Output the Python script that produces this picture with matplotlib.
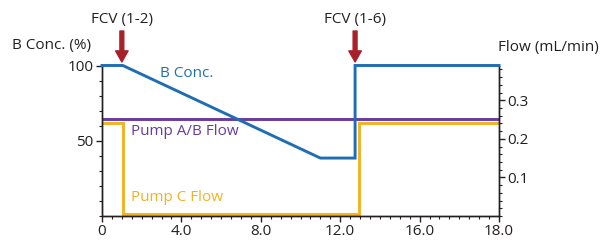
import numpy as np
import matplotlib.pyplot as plt
from matplotlib.ticker import MultipleLocator

plt.rcParams['font.family'] = ['Open Sans', 'DejaVu Sans']

# B concentration (%) vs time
bconc_x = [0, 1.05, 11.0, 12.75, 12.75, 20]
bconc_y = [100, 100, 38.5, 38.5, 100, 100]

# pump flows (mL/min)
pab_x = [0, 20]
pab_y = [0.252, 0.252]
pc_x = [0, 1.07, 1.07, 12.95, 12.95, 20]
pc_y = [0.241, 0.241, 0.004, 0.004, 0.241, 0.241]

xticks = [0, 4, 8, 12, 16, 20]
xlabels = ['0', '4.0', '8.0', '12.0', '16.0', '18.0']

events = [(1.0, 'FCV (1-2)'), (12.75, 'FCV (1-6)')]

blue = '#1f6db3'
purple = '#6a3a9c'
yellow = '#f0b323'
red = '#a8202a'
dark = '#231f20'
fs = 11

fig = plt.figure(figsize=(6.05, 2.4), dpi=100)
ax = fig.add_axes([102/605, 1-216/240, 397/605, 150.5/240])
ax2 = ax.twinx()

ax.plot(bconc_x, bconc_y, color=blue, lw=2.1, solid_joinstyle='miter',
        zorder=3, clip_on=False)
ax2.plot(pab_x, pab_y, color=purple, lw=2.1, zorder=2)
ax2.plot(pc_x, pc_y, color=yellow, lw=2.1, solid_joinstyle='miter', zorder=2)

ax.set_xlim(0, 20)
ax.set_ylim(0, 100)
ax2.set_ylim(0, 0.39)
ax.set_zorder(ax2.get_zorder() + 1)
ax.patch.set_visible(False)

ax.set_xticks(xticks)
ax.set_xticklabels(xlabels)
ax.xaxis.set_minor_locator(MultipleLocator(0.5))
ax.set_yticks([50, 100])
ax.yaxis.set_minor_locator(MultipleLocator(10))
ax2.set_yticks([0.1, 0.2, 0.3])
ax2.set_yticklabels(['0.1', '0.2', '0.3'])
ax2.yaxis.set_minor_locator(MultipleLocator(0.02))

for a in (ax, ax2):
    a.spines['top'].set_visible(False)
    for s in a.spines.values():
        s.set_color(dark)
        s.set_linewidth(1.0)
    a.tick_params(which='major', length=4, width=1, color=dark,
                  labelsize=fs, labelcolor=dark, pad=2)
    a.tick_params(which='minor', length=2, width=0.8, color=dark)

ax.text(2.9, 95, 'B Conc.', color=blue, fontsize=fs, va='center', ha='left')
ax.text(1.45, 56, 'Pump A/B Flow', color=purple, fontsize=fs, va='center', ha='left')
ax.text(1.45, 12, 'Pump C Flow', color=yellow, fontsize=fs, va='center', ha='left')

fig.text(12/605, 1-46/240, 'B Conc. (%)', fontsize=fs, color=dark, va='center', ha='left')
fig.text(498/605, 1-47/240, 'Flow (mL/min)', fontsize=fs, color=dark, va='center', ha='left')

for ex, lab in events:
    px = 102 + ex*397/20
    fig.text(px/605, 1-19/240, lab, fontsize=fs, color=dark, va='center', ha='center')
    ax.annotate('', xy=(px, 240-62), xycoords='figure pixels',
                xytext=(px, 240-31), textcoords='figure pixels',
                arrowprops=dict(width=2.8, headwidth=9, headlength=8,
                                color=red, shrink=0))

fig.savefig('out.png', dpi=100)
